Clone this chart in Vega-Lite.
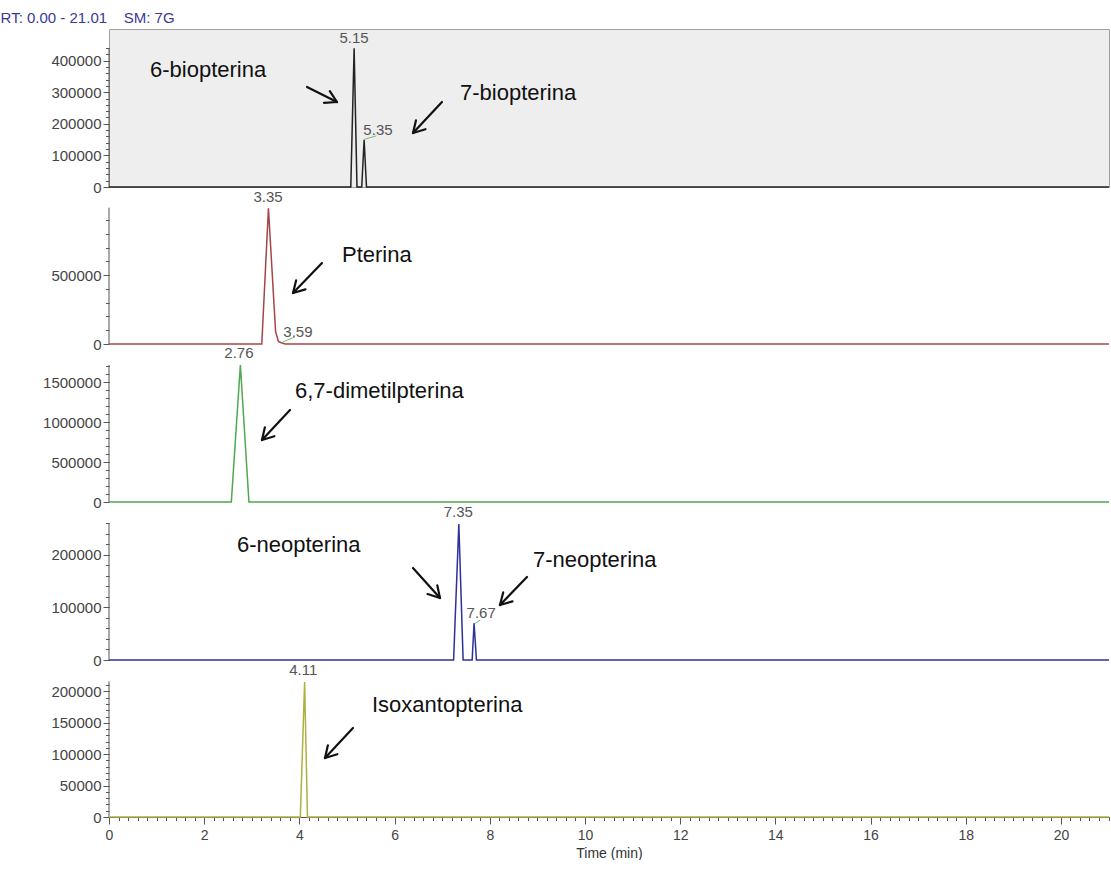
{
  "$schema": "https://vega.github.io/schema/vega-lite/v6.json",
  "background": "white",
  "padding": {"left": 0, "top": 10, "right": 0, "bottom": 0},
  "bounds": "flush",
  "spacing": 0,
  "title": {"text": "RT: 0.00 - 21.01\u00a0\u00a0\u00a0 SM: 7G", "anchor": "start", "frame": "bounds", "dx": -42, "fontSize": 15, "fontWeight": "normal", "font": "Liberation Sans", "color": "#3a3a96", "offset": 3},
  "datasets": {
    "trace": [
      {"p":1,"t":0,"i":0},{"p":1,"t":5.08,"i":0},{"p":1,"t":5.15,"i":439000},{"p":1,"t":5.21,"i":0},{"p":1,"t":5.31,"i":0},{"p":1,"t":5.36,"i":149000},{"p":1,"t":5.41,"i":0},{"p":1,"t":21.01,"i":0},
      {"p":2,"t":0,"i":0},{"p":2,"t":3.21,"i":0},{"p":2,"t":3.35,"i":985000},{"p":2,"t":3.5,"i":90000},{"p":2,"t":3.56,"i":18000},{"p":2,"t":3.62,"i":9000},{"p":2,"t":3.7,"i":0},{"p":2,"t":21.01,"i":0},
      {"p":3,"t":0,"i":0},{"p":3,"t":2.57,"i":0},{"p":3,"t":2.76,"i":1712000},{"p":3,"t":2.94,"i":0},{"p":3,"t":21.01,"i":0},
      {"p":4,"t":0,"i":0},{"p":4,"t":7.24,"i":0},{"p":4,"t":7.35,"i":258000},{"p":4,"t":7.44,"i":0},{"p":4,"t":7.63,"i":0},{"p":4,"t":7.67,"i":70000},{"p":4,"t":7.72,"i":0},{"p":4,"t":21.01,"i":0},
      {"p":5,"t":0,"i":0},{"p":5,"t":4.02,"i":0},{"p":5,"t":4.11,"i":215000},{"p":5,"t":4.17,"i":0},{"p":5,"t":21.01,"i":0}
    ],
    "axes": [
      {"p":1,"t":0,"bottom":0,"top":440000},{"p":2,"t":0,"bottom":0,"top":990000},{"p":3,"t":0,"bottom":0,"top":1712000},{"p":4,"t":0,"bottom":0,"top":260000},{"p":5,"t":0,"bottom":0,"top":216000}
    ],
    "peaks": [
      {"p":1,"t":5.147,"i":455700,"label":"5.15"},{"p":1,"t":5.651,"i":164600,"label":"5.35"},
      {"p":2,"t":3.34,"i":1033000,"label":"3.35"},{"p":2,"t":3.97,"i":53000,"label":"3.59"},
      {"p":3,"t":2.73,"i":1800000,"label":"2.76"},
      {"p":4,"t":7.34,"i":271500,"label":"7.35"},{"p":4,"t":7.82,"i":79750,"label":"7.67"},
      {"p":5,"t":4.08,"i":226100,"label":"4.11"}
    ],
    "leaders": [
      {"p":1,"t":5.35,"i":150000,"t2":5.62,"i2":162000},
      {"p":2,"t":3.65,"i":14000,"t2":3.9,"i2":50000},
      {"p":4,"t":7.67,"i":68000,"t2":7.8,"i2":76000}
    ],
    "notes": [
      {"p":1,"t":0.861,"i":348100,"text":"6-biopterina"},
      {"p":1,"t":7.374,"i":275300,"text":"7-biopterina"},
      {"p":2,"t":4.895,"i":595400,"text":"Pterina"},
      {"p":3,"t":3.908,"i":1300000,"text":"6,7-dimetilpterina"},
      {"p":4,"t":2.689,"i":205060,"text":"6-neopterina"},
      {"p":4,"t":8.908,"i":176580,"text":"7-neopterina"},
      {"p":5,"t":5.525,"i":167200,"text":"Isoxantopterina"}
    ],
    "arrows": [
      {"p":1,"t":4.16,"i":316460,"t2":4.79,"i2":268990},{"p":1,"t":4.79,"i":268990,"t2":4.639,"i2":303170},{"p":1,"t":4.79,"i":268990,"t2":4.517,"i2":266460},
      {"p":1,"t":6.996,"i":268990,"t2":6.387,"i2":170890},{"p":1,"t":6.387,"i":170890,"t2":6.649,"i2":182910},{"p":1,"t":6.387,"i":170890,"t2":6.45,"i2":211080},
      {"p":2,"t":4.475,"i":588140,"t2":3.866,"i2":370310},{"p":2,"t":3.866,"i":370310,"t2":4.128,"i2":396450},{"p":2,"t":3.866,"i":370310,"t2":3.931,"i2":461800},
      {"p":3,"t":3.803,"i":1150000,"t2":3.214,"i2":775000},{"p":3,"t":3.214,"i":775000,"t2":3.475,"i2":822500},{"p":3,"t":3.214,"i":775000,"t2":3.275,"i2":933750},
      {"p":4,"t":6.387,"i":174680,"t2":6.954,"i2":117720},{"p":4,"t":6.954,"i":117720,"t2":6.897,"i2":141830},{"p":4,"t":6.954,"i":117720,"t2":6.693,"i2":125310},
      {"p":4,"t":8.782,"i":157590,"t2":8.214,"i2":104430},{"p":4,"t":8.214,"i":104430,"t2":8.477,"i2":111260},{"p":4,"t":8.214,"i":104430,"t2":8.282,"i2":128350},
      {"p":5,"t":5.126,"i":141720,"t2":4.538,"i2":93950},{"p":5,"t":4.538,"i":93950,"t2":4.798,"i2":100000},{"p":5,"t":4.538,"i":93950,"t2":4.599,"i2":114170}
    ]
  },
  "vconcat": [
    {
      "width": 1000, "height": 158,
      "view": {"fill": "#eeeeee", "stroke": "#a0a0a0", "strokeWidth": 1},
      "resolve": {"axis": {"y": "independent"}},
      "layer": [
        {"data": {"name": "axes"}, "transform": [{"filter": "datum.p == 1"}],
         "mark": {"type": "rule", "color": "#555555", "strokeWidth": 1},
         "encoding": {
           "x": {"field": "t", "type": "quantitative", "scale": {"domain": [0, 21.01], "nice": false, "zero": false}, "axis": null},
           "y": {"field": "bottom", "type": "quantitative", "scale": {"domain": [0, 500000], "nice": false}, "axis": {"orient": "left", "values": [20000,40000,60000,80000,100000,120000,140000,160000,180000,200000,220000,240000,260000,280000,300000,320000,340000,360000,380000,400000,420000,440000], "labels": false, "domain": false, "grid": false, "tickSize": 3.5, "tickColor": "#555555", "title": null}},
           "y2": {"field": "top"}}},
        {"data": {"name": "trace"}, "transform": [{"filter": "datum.p == 1"}],
         "mark": {"type": "line", "color": "#222222", "strokeWidth": 1.5},
         "encoding": {
           "x": {"field": "t", "type": "quantitative", "axis": null},
           "y": {"field": "i", "type": "quantitative", "axis": {"orient": "left", "values": [0,100000,200000,300000,400000], "format": "d", "domain": false, "grid": false, "tickSize": 6, "tickColor": "#555555", "labelFontSize": 15, "labelColor": "#444444", "labelPadding": 2, "title": null}}}},
        {"data": {"name": "leaders"}, "transform": [{"filter": "datum.p == 1"}],
         "mark": {"type": "rule", "color": "#77bb77", "strokeWidth": 1},
         "encoding": {"x": {"field": "t", "type": "quantitative", "axis": null}, "y": {"field": "i", "type": "quantitative", "axis": null}, "x2": {"field": "t2"}, "y2": {"field": "i2"}}},
        {"data": {"name": "peaks"}, "transform": [{"filter": "datum.p == 1"}],
         "mark": {"type": "text", "fontSize": 15, "color": "#555555", "align": "center", "baseline": "alphabetic"},
         "encoding": {"x": {"field": "t", "type": "quantitative", "axis": null}, "y": {"field": "i", "type": "quantitative", "axis": null}, "text": {"field": "label"}}},
        {"data": {"name": "arrows"}, "transform": [{"filter": "datum.p == 1"}],
         "mark": {"type": "rule", "color": "#111111", "strokeWidth": 2.2, "strokeCap": "round"},
         "encoding": {"x": {"field": "t", "type": "quantitative", "axis": null}, "y": {"field": "i", "type": "quantitative", "axis": null}, "x2": {"field": "t2"}, "y2": {"field": "i2"}}},
        {"data": {"name": "notes"}, "transform": [{"filter": "datum.p == 1"}],
         "mark": {"type": "text", "fontSize": 22, "color": "#111111", "align": "left", "baseline": "alphabetic"},
         "encoding": {"x": {"field": "t", "type": "quantitative", "axis": null}, "y": {"field": "i", "type": "quantitative", "axis": null}, "text": {"field": "text"}}}
      ]
    },
    {
      "width": 1000, "height": 157,
      "resolve": {"axis": {"y": "independent"}},
      "layer": [
        {"data": {"name": "axes"}, "transform": [{"filter": "datum.p == 2"}],
         "mark": {"type": "rule", "color": "#555555", "strokeWidth": 1},
         "encoding": {
           "x": {"field": "t", "type": "quantitative", "scale": {"domain": [0, 21.01], "nice": false, "zero": false}, "axis": null},
           "y": {"field": "bottom", "type": "quantitative", "scale": {"domain": [0, 1140000], "nice": false}, "axis": {"orient": "left", "values": [100000,200000,300000,400000,500000,600000,700000,800000,900000], "labels": false, "domain": false, "grid": false, "tickSize": 3.5, "tickColor": "#555555", "title": null}},
           "y2": {"field": "top"}}},
        {"data": {"name": "trace"}, "transform": [{"filter": "datum.p == 2"}],
         "mark": {"type": "line", "color": "#a64545", "strokeWidth": 1.5},
         "encoding": {
           "x": {"field": "t", "type": "quantitative", "axis": null},
           "y": {"field": "i", "type": "quantitative", "axis": {"orient": "left", "values": [0,500000], "format": "d", "domain": false, "grid": false, "tickSize": 6, "tickColor": "#555555", "labelFontSize": 15, "labelColor": "#444444", "labelPadding": 2, "title": null}}}},
        {"data": {"name": "leaders"}, "transform": [{"filter": "datum.p == 2"}],
         "mark": {"type": "rule", "color": "#77bb77", "strokeWidth": 1},
         "encoding": {"x": {"field": "t", "type": "quantitative", "axis": null}, "y": {"field": "i", "type": "quantitative", "axis": null}, "x2": {"field": "t2"}, "y2": {"field": "i2"}}},
        {"data": {"name": "peaks"}, "transform": [{"filter": "datum.p == 2"}],
         "mark": {"type": "text", "fontSize": 15, "color": "#555555", "align": "center", "baseline": "alphabetic"},
         "encoding": {"x": {"field": "t", "type": "quantitative", "axis": null}, "y": {"field": "i", "type": "quantitative", "axis": null}, "text": {"field": "label"}}},
        {"data": {"name": "arrows"}, "transform": [{"filter": "datum.p == 2"}],
         "mark": {"type": "rule", "color": "#111111", "strokeWidth": 2.2, "strokeCap": "round"},
         "encoding": {"x": {"field": "t", "type": "quantitative", "axis": null}, "y": {"field": "i", "type": "quantitative", "axis": null}, "x2": {"field": "t2"}, "y2": {"field": "i2"}}},
        {"data": {"name": "notes"}, "transform": [{"filter": "datum.p == 2"}],
         "mark": {"type": "text", "fontSize": 22, "color": "#111111", "align": "left", "baseline": "alphabetic"},
         "encoding": {"x": {"field": "t", "type": "quantitative", "axis": null}, "y": {"field": "i", "type": "quantitative", "axis": null}, "text": {"field": "text"}}}
      ]
    },
    {
      "width": 1000, "height": 158,
      "resolve": {"axis": {"y": "independent"}},
      "layer": [
        {"data": {"name": "axes"}, "transform": [{"filter": "datum.p == 3"}],
         "mark": {"type": "rule", "color": "#555555", "strokeWidth": 1},
         "encoding": {
           "x": {"field": "t", "type": "quantitative", "scale": {"domain": [0, 21.01], "nice": false, "zero": false}, "axis": null},
           "y": {"field": "bottom", "type": "quantitative", "scale": {"domain": [0, 1975000], "nice": false}, "axis": {"orient": "left", "values": [100000,200000,300000,400000,500000,600000,700000,800000,900000,1000000,1100000,1200000,1300000,1400000,1500000,1600000,1700000], "labels": false, "domain": false, "grid": false, "tickSize": 3.5, "tickColor": "#555555", "title": null}},
           "y2": {"field": "top"}}},
        {"data": {"name": "trace"}, "transform": [{"filter": "datum.p == 3"}],
         "mark": {"type": "line", "color": "#4fa84f", "strokeWidth": 1.5},
         "encoding": {
           "x": {"field": "t", "type": "quantitative", "axis": null},
           "y": {"field": "i", "type": "quantitative", "axis": {"orient": "left", "values": [0,500000,1000000,1500000], "format": "d", "domain": false, "grid": false, "tickSize": 6, "tickColor": "#555555", "labelFontSize": 15, "labelColor": "#444444", "labelPadding": 2, "title": null}}}},
        {"data": {"name": "peaks"}, "transform": [{"filter": "datum.p == 3"}],
         "mark": {"type": "text", "fontSize": 15, "color": "#555555", "align": "center", "baseline": "alphabetic"},
         "encoding": {"x": {"field": "t", "type": "quantitative", "axis": null}, "y": {"field": "i", "type": "quantitative", "axis": null}, "text": {"field": "label"}}},
        {"data": {"name": "arrows"}, "transform": [{"filter": "datum.p == 3"}],
         "mark": {"type": "rule", "color": "#111111", "strokeWidth": 2.2, "strokeCap": "round"},
         "encoding": {"x": {"field": "t", "type": "quantitative", "axis": null}, "y": {"field": "i", "type": "quantitative", "axis": null}, "x2": {"field": "t2"}, "y2": {"field": "i2"}}},
        {"data": {"name": "notes"}, "transform": [{"filter": "datum.p == 3"}],
         "mark": {"type": "text", "fontSize": 22, "color": "#111111", "align": "left", "baseline": "alphabetic"},
         "encoding": {"x": {"field": "t", "type": "quantitative", "axis": null}, "y": {"field": "i", "type": "quantitative", "axis": null}, "text": {"field": "text"}}}
      ]
    },
    {
      "width": 1000, "height": 158,
      "resolve": {"axis": {"y": "independent"}},
      "layer": [
        {"data": {"name": "axes"}, "transform": [{"filter": "datum.p == 4"}],
         "mark": {"type": "rule", "color": "#555555", "strokeWidth": 1},
         "encoding": {
           "x": {"field": "t", "type": "quantitative", "scale": {"domain": [0, 21.01], "nice": false, "zero": false}, "axis": null},
           "y": {"field": "bottom", "type": "quantitative", "scale": {"domain": [0, 300000], "nice": false}, "axis": {"orient": "left", "values": [20000,40000,60000,80000,100000,120000,140000,160000,180000,200000,220000,240000,260000], "labels": false, "domain": false, "grid": false, "tickSize": 3.5, "tickColor": "#555555", "title": null}},
           "y2": {"field": "top"}}},
        {"data": {"name": "trace"}, "transform": [{"filter": "datum.p == 4"}],
         "mark": {"type": "line", "color": "#30309a", "strokeWidth": 1.5},
         "encoding": {
           "x": {"field": "t", "type": "quantitative", "axis": null},
           "y": {"field": "i", "type": "quantitative", "axis": {"orient": "left", "values": [0,100000,200000], "format": "d", "domain": false, "grid": false, "tickSize": 6, "tickColor": "#555555", "labelFontSize": 15, "labelColor": "#444444", "labelPadding": 2, "title": null}}}},
        {"data": {"name": "leaders"}, "transform": [{"filter": "datum.p == 4"}],
         "mark": {"type": "rule", "color": "#77bb77", "strokeWidth": 1},
         "encoding": {"x": {"field": "t", "type": "quantitative", "axis": null}, "y": {"field": "i", "type": "quantitative", "axis": null}, "x2": {"field": "t2"}, "y2": {"field": "i2"}}},
        {"data": {"name": "peaks"}, "transform": [{"filter": "datum.p == 4"}],
         "mark": {"type": "text", "fontSize": 15, "color": "#555555", "align": "center", "baseline": "alphabetic"},
         "encoding": {"x": {"field": "t", "type": "quantitative", "axis": null}, "y": {"field": "i", "type": "quantitative", "axis": null}, "text": {"field": "label"}}},
        {"data": {"name": "arrows"}, "transform": [{"filter": "datum.p == 4"}],
         "mark": {"type": "rule", "color": "#111111", "strokeWidth": 2.2, "strokeCap": "round"},
         "encoding": {"x": {"field": "t", "type": "quantitative", "axis": null}, "y": {"field": "i", "type": "quantitative", "axis": null}, "x2": {"field": "t2"}, "y2": {"field": "i2"}}},
        {"data": {"name": "notes"}, "transform": [{"filter": "datum.p == 4"}],
         "mark": {"type": "text", "fontSize": 22, "color": "#111111", "align": "left", "baseline": "alphabetic"},
         "encoding": {"x": {"field": "t", "type": "quantitative", "axis": null}, "y": {"field": "i", "type": "quantitative", "axis": null}, "text": {"field": "text"}}}
      ]
    },
    {
      "width": 1000, "height": 157,
      "resolve": {"axis": {"x": "independent", "y": "independent"}},
      "layer": [
        {"data": {"name": "axes"}, "transform": [{"filter": "datum.p == 5"}],
         "mark": {"type": "rule", "color": "#555555", "strokeWidth": 1},
         "encoding": {
           "x": {"field": "t", "type": "quantitative", "scale": {"domain": [0, 21.01], "nice": false, "zero": false}, "axis": {"orient": "bottom", "tickCount": 105, "labels": false, "domain": false, "grid": false, "tickSize": 3.5, "tickColor": "#555555", "title": null}},
           "y": {"field": "bottom", "type": "quantitative", "scale": {"domain": [0, 250000], "nice": false}, "axis": {"orient": "left", "values": [10000,20000,30000,40000,50000,60000,70000,80000,90000,100000,110000,120000,130000,140000,150000,160000,170000,180000,190000,200000,210000], "labels": false, "domain": false, "grid": false, "tickSize": 3.5, "tickColor": "#555555", "title": null}},
           "y2": {"field": "top"}}},
        {"data": {"name": "trace"}, "transform": [{"filter": "datum.p == 5"}],
         "mark": {"type": "line", "color": "#b0b040", "strokeWidth": 1.5},
         "encoding": {
           "x": {"field": "t", "type": "quantitative", "axis": {"orient": "bottom", "values": [0,2,4,6,8,10,12,14,16,18,20], "format": "d", "labelFlush": false, "grid": false, "tickSize": 7, "tickColor": "#555555", "domainColor": "#555555", "labelFontSize": 14, "labelColor": "#444444", "labelPadding": 4, "title": "Time (min)", "titleFontSize": 14, "titleFontWeight": "normal", "titleColor": "#333333", "titlePadding": 4}},
           "y": {"field": "i", "type": "quantitative", "axis": {"orient": "left", "values": [0,50000,100000,150000,200000], "format": "d", "domain": false, "grid": false, "tickSize": 6, "tickColor": "#555555", "labelFontSize": 15, "labelColor": "#444444", "labelPadding": 2, "title": null}}}},
        {"data": {"name": "peaks"}, "transform": [{"filter": "datum.p == 5"}],
         "mark": {"type": "text", "fontSize": 15, "color": "#555555", "align": "center", "baseline": "alphabetic"},
         "encoding": {"x": {"field": "t", "type": "quantitative", "axis": null}, "y": {"field": "i", "type": "quantitative", "axis": null}, "text": {"field": "label"}}},
        {"data": {"name": "arrows"}, "transform": [{"filter": "datum.p == 5"}],
         "mark": {"type": "rule", "color": "#111111", "strokeWidth": 2.2, "strokeCap": "round"},
         "encoding": {"x": {"field": "t", "type": "quantitative", "axis": null}, "y": {"field": "i", "type": "quantitative", "axis": null}, "x2": {"field": "t2"}, "y2": {"field": "i2"}}},
        {"data": {"name": "notes"}, "transform": [{"filter": "datum.p == 5"}],
         "mark": {"type": "text", "fontSize": 22, "color": "#111111", "align": "left", "baseline": "alphabetic"},
         "encoding": {"x": {"field": "t", "type": "quantitative", "axis": null}, "y": {"field": "i", "type": "quantitative", "axis": null}, "text": {"field": "text"}}}
      ]
    }
  ],
  "config": {
    "view": {"stroke": null},
    "font": "Liberation Sans",
    "axis": {"labelFont": "Liberation Sans", "titleFont": "Liberation Sans", "grid": false},
    "text": {"font": "Liberation Sans"},
    "concat": {"spacing": 0}
  }
}
